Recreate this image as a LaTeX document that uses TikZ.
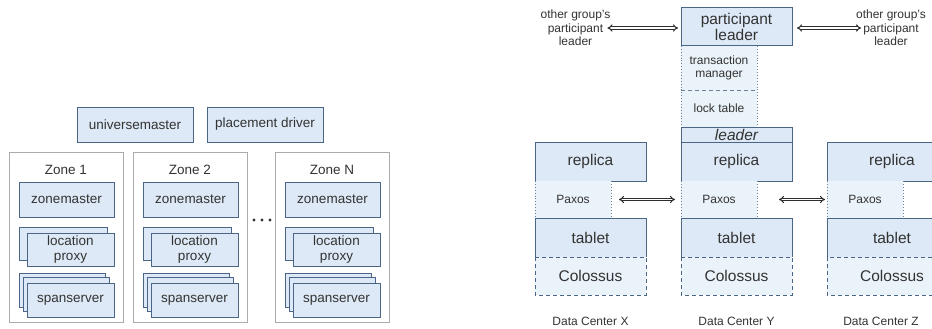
\documentclass[tikz,border=0pt]{standalone}
\usepackage{fontspec}
\setmainfont{Liberation Sans}
\usetikzlibrary{arrows.meta}
\definecolor{bfill}{HTML}{DDE9F6}
\definecolor{bline}{HTML}{4A6585}
\definecolor{sfill}{HTML}{EAF2FA}
\definecolor{dline}{HTML}{6A7F99}
\definecolor{zline}{HTML}{ABABAB}
\definecolor{txt}{HTML}{333333}
\newcommand{\fsL}{\fontsize{13.5}{15}\selectfont}
\newcommand{\fsB}{\fontsize{15.5}{16.5}\selectfont}
\newcommand{\fsS}{\fontsize{12}{13.5}\selectfont}
\begin{document}
\begin{tikzpicture}[x=1pt,y=-1pt,
  every node/.style={text=txt, inner sep=0pt, outer sep=0pt},
  bx/.style={draw=bline, fill=bfill, line width=1pt, anchor=north west, align=center},
  zonebox/.style={draw=zline, fill=white, line width=1pt, anchor=north west},
  softbox/.style={fill=sfill, anchor=north west, align=center},
  fillonly/.style={fill=bfill, anchor=north west, align=center},
  dotline/.style={draw=dline, line width=0.9pt, dotted},
  dashline/.style={draw=bline, line width=0.9pt, dash pattern=on 4pt off 3pt},
  dbl/.style={draw=txt!90!black, line width=1.05pt, double=white, double distance=1.3pt, {Implies}-{Implies}},
  lbl/.style={align=center},
  dotnode/.style={circle, fill=txt, minimum size=3.2pt}
]
\clip (0,0) rectangle (932,329);
\fill[white] (0,0) rectangle (932,329);

% ---------- left diagram ----------
\node[bx, minimum width=116pt, minimum height=35pt, font=\fsL] (um) at (77,107) {universemaster};
\node[bx, minimum width=116pt, minimum height=35pt, font=\fsL] (pd) at (207,107) {placement driver};

\foreach \x/\n/\lab in {9/1/Zone 1, 133/2/Zone 2, 275/N/Zone N} {
  \node[zonebox, minimum width=114pt, minimum height=170pt] (zone\n) at (\x,152) {};
  \node[lbl, font=\fsL] (zl\n) at (\x+57,170) {\lab};
  \node[bx, minimum width=95pt, minimum height=35pt, font=\fsL] (zm\n) at (\x+10,182) {zonemaster};
  \node[bx, minimum width=88pt, minimum height=33pt] (lpb\n) at (\x+10,227) {};
  \node[bx, minimum width=87pt, minimum height=33pt, font=\fsL] (lp\n) at (\x+18,233) {location\\proxy};
  \node[bx, minimum width=86pt, minimum height=34pt] (ssa\n) at (\x+10,273) {};
  \node[bx, minimum width=86pt, minimum height=34pt] (ssb\n) at (\x+14,277) {};
  \node[bx, minimum width=87pt, minimum height=34pt, font=\fsL] (ss\n) at (\x+18,283) {spanserver};
}
\node[dotnode] (d1) at (254,220) {};
\node[dotnode] (d2) at (262,220) {};
\node[dotnode] (d3) at (270,220) {};

% ---------- right diagram ----------
\node[bx, minimum width=111pt, minimum height=38pt, font=\fsB] (pl) at (681,8) {participant\\leader};
\node[softbox, minimum width=76pt, minimum height=44pt, font=\fsS] (tm) at (681,46) {transaction\\manager};
\node[softbox, minimum width=76pt, minimum height=37pt, font=\fsS] (lt) at (681,90) {lock table};
\draw[dotline] (tm.north west) -- (lt.south west);
\draw[dotline] (tm.north east) -- (lt.south east);
\draw[dashline, draw=dline] (tm.south west) -- (tm.south east);
\node[bx, minimum width=111pt, minimum height=15pt, font=\fsB\itshape] (ld) at (681,127) {leader};

\foreach \x/\n/\w in {535/X/111, 681/Y/111, 827/Z/130} {
  \node[bx, minimum width=\w pt, minimum height=39pt, font=\fsB] (rep\n) at (\x,142) {replica};
  \node[softbox, minimum width=76pt, minimum height=37pt, font=\fsS] (px\n) at (\x,181) {Paxos};
  \draw[dotline] (px\n.north west) -- (px\n.south west);
  \draw[dotline] (px\n.north east) -- (px\n.south east);
  \node[fillonly, minimum width=\w pt, minimum height=39pt, font=\fsB] (tb\n) at (\x,218) {tablet};
  \node[softbox, minimum width=\w pt, minimum height=38pt, font=\fsB] (co\n) at (\x,257) {Colossus};
  \draw[dashline] (co\n.north west) rectangle (co\n.south east);
  \draw[draw=bline, line width=1pt] (tb\n.south west) |- (tb\n.north east) -- (tb\n.south east);
}
\node[lbl, font=\fsS] (dcX) at (590.5,321) {Data Center X};
\node[lbl, font=\fsS] (dcY) at (736.5,321) {Data Center Y};
\node[lbl, font=\fsS] (dcZ) at (881,321) {Data Center Z};

\node[lbl, font=\fsS] (oL) at (575.5,28) {other group's\\participant\\leader};
\node[lbl, font=\fsS] (oR) at (891,28) {other group's\\participant\\leader};
\coordinate (oLa) at ([xshift=-3pt]oL.east);
\coordinate (oRa) at ([xshift=5pt]oR.west);

\draw[dbl, shorten >=3pt] (oLa) -- (oLa -| pl.west);
\draw[dbl, shorten <=5pt] (oRa -| pl.east) -- (oRa);
\draw[dbl, shorten <=8pt, shorten >=6pt] (pxX.east) -- (pxY.west);
\draw[dbl, shorten <=22pt, shorten >=2pt] (pxY.east) -- (pxZ.west);
\end{tikzpicture}
\end{document}
